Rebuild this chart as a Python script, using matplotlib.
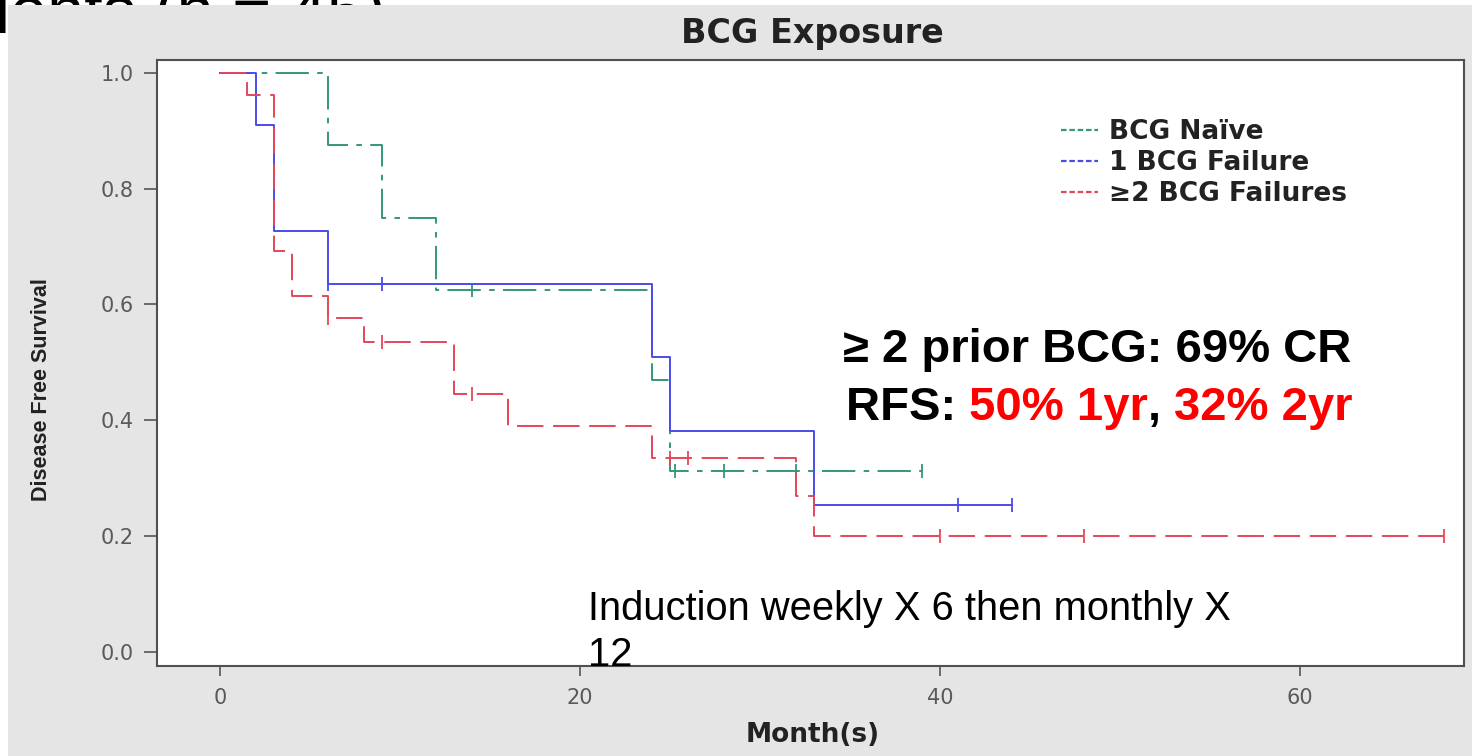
import numpy as np
import matplotlib.pyplot as plt
from matplotlib.lines import Line2D
from matplotlib.patches import Rectangle

plt.rcParams['lines.scale_dashes'] = False

# Kaplan-Meier steps
months_naive = [0, 6, 9, 12, 24, 25, 39]
surv_naive = [1.0, 0.875, 0.75, 0.625, 0.469, 0.3125, 0.3125]
cens_naive = [14, 25.3, 28, 32, 39]

months_one = [0, 2, 3, 6, 24, 25, 33, 44]
surv_one = [1.0, 0.909, 0.727, 0.636, 0.509, 0.382, 0.254, 0.254]
cens_one = [6, 9, 41, 44]

months_two = [0, 1.5, 3, 4, 6, 8, 13, 16, 24, 32, 33, 68]
surv_two = [1.0, 0.962, 0.692, 0.615, 0.577, 0.536, 0.446, 0.39, 0.335, 0.27, 0.2, 0.2]
cens_two = [6, 9, 14, 25, 26, 40, 48, 68]

labels = ['BCG Naïve', '1 BCG Failure', '≥2 BCG Failures']
colors = ['#34967a', '#4b4bea', '#e5465a']
styles = [(0, (24, 6, 4, 6)), '-', (0, (19, 7))]

xticks = [0, 20, 40, 60]
yticks = [0.0, 0.2, 0.4, 0.6, 0.8, 1.0]


def surv_at(t, s, c):
    idx = np.searchsorted(t, c, side='right') - 1
    return np.asarray(s)[idx]


W, H = 1472, 756
fig = plt.figure(figsize=(W / 100, H / 100), dpi=100)
fig.patch.set_facecolor('white')

# slide heading that sits behind the pasted chart picture
fig.text(386 / W, 1 - 33 / H, 'Patients (n = 45)', ha='right', va='baseline',
         fontsize=48, color='black', family=['Liberation Sans', 'DejaVu Sans'],
         zorder=-10)
fig.add_artist(Rectangle((8 / W, 0), 1, (H - 5) / H, transform=fig.transFigure,
                         facecolor='#e5e5e5', edgecolor='none', zorder=-5))

ax = fig.add_axes([157 / W, 1 - 666 / H, (1464 - 157) / W, (666 - 60) / H])
ax.set_facecolor('white')

groups = [(months_naive, surv_naive, cens_naive),
          (months_one, surv_one, cens_one),
          (months_two, surv_two, cens_two)]
for (t, s, c), col, ls in zip(groups, colors, styles):
    ax.step(t, s, where='post', color=col, lw=1.4, ls=ls)
    ax.plot(c, surv_at(t, s, c), ls='none', marker='|', ms=10, mew=1.3, color=col)

ax.set_xlim(-3.5, 69.1)
ax.set_ylim(-0.024, 1.022)
ax.set_xticks(xticks)
ax.set_yticks(yticks)
ax.set_yticklabels([f'{v:.1f}' for v in yticks])
ax.tick_params(direction='out', width=1.4, color='#6a6a6a',
               labelsize=15, labelcolor='#5a5a5a')
ax.tick_params(axis='y', length=9.5, pad=7)
ax.tick_params(axis='x', length=7.5, pad=8.5)
for sp in ax.spines.values():
    sp.set_color('#505050')
    sp.set_linewidth(1.5)

fig.text(812 / W, 1 - 33 / H, 'BCG Exposure', ha='center', va='center',
         fontsize=24, fontweight='bold', color='#222222', family='DejaVu Sans')
fig.text(813 / W, 1 - 735 / H, 'Month(s)', ha='center', va='center',
         fontsize=19, fontweight='bold', color='#222222', family='DejaVu Sans')
fig.text(42 / W, 1 - 390 / H, 'Disease Free Survival', ha='center', va='center',
         rotation=90, fontsize=15.5, fontweight='bold', color='#222222',
         family=['Liberation Sans', 'DejaVu Sans'])

handles = [Line2D([], [], color=c, ls=(0, (4, 2)), lw=1.6) for c in colors]
ax.legend(handles, labels, loc='upper left', bbox_to_anchor=(0.692, 0.902),
          frameon=False, handlelength=1.4, handletextpad=0.4, labelspacing=0.18,
          borderaxespad=0, borderpad=0,
          prop={'family': 'DejaVu Sans', 'weight': 'bold', 'size': 19})
for txt in ax.get_legend().get_texts():
    txt.set_color('#222222')

big = dict(fontsize=34, fontweight='bold', family=['Liberation Sans', 'DejaVu Sans'])
fig.text(843 / W, 1 - 362 / H, '≥ 2 prior BCG: 69% CR', ha='left', va='baseline',
         color='black', **big)
r = fig.text(846 / W, 1 - 420 / H, 'RFS: ', ha='left', va='baseline', color='black', **big)
for piece, col in [('50% 1yr', 'red'), (', ', 'black'), ('32% 2yr', 'red')]:
    r = ax.annotate(piece, xy=(1, 0), xycoords=r, ha='left', va='bottom',
                    color=col, annotation_clip=False, **big)

note = dict(fontsize=28.7, color='black', family=['Liberation Sans', 'DejaVu Sans'])
fig.text(588 / W, 1 - 620 / H, 'Induction weekly X 6 then monthly X', ha='left',
         va='baseline', **note)
fig.text(588 / W, 1 - 666 / H, '12', ha='left', va='baseline', **note)

fig.savefig('out.png', dpi=100)
